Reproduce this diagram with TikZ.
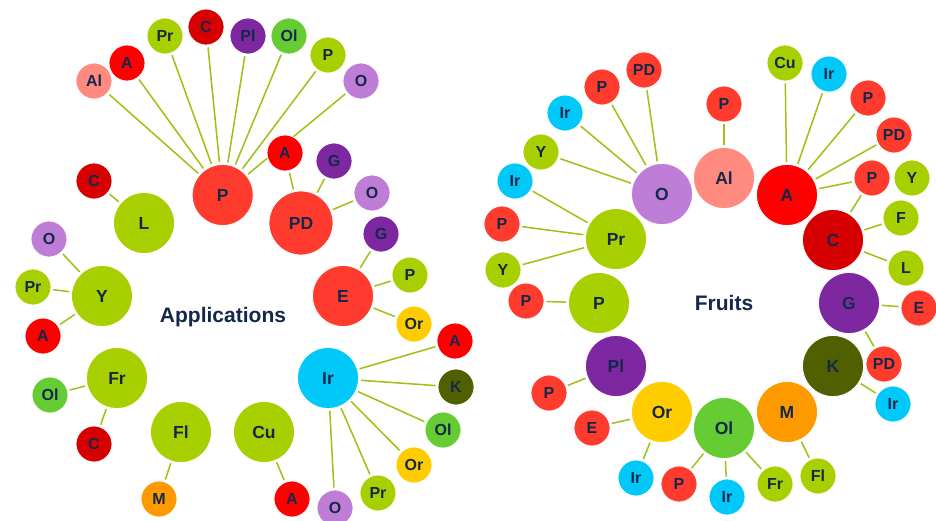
\documentclass[tikz,border=0pt]{standalone}
\usepackage{fontspec}
\setmainfont{Liberation Sans}
\usetikzlibrary{backgrounds}
\definecolor{tomred}{RGB}{255,59,45}
\definecolor{pured}{RGB}{255,0,0}
\definecolor{dkred}{RGB}{215,0,0}
\definecolor{salmon}{RGB}{255,138,128}
\definecolor{lime}{RGB}{168,208,0}
\definecolor{olgreen}{RGB}{102,204,51}
\definecolor{purp}{RGB}{125,40,160}
\definecolor{lav}{RGB}{190,125,215}
\definecolor{cyanb}{RGB}{0,200,248}
\definecolor{olive}{RGB}{80,95,0}
\definecolor{yell}{RGB}{255,204,0}
\definecolor{orng}{RGB}{255,153,0}
\definecolor{navy}{RGB}{20,40,75}
\definecolor{linec}{RGB}{160,192,20}
\tikzset{
  bub/.style={circle,draw=white,line width=0.8pt,inner sep=0pt,text=navy,font=\bfseries\fontsize{16}{16}\selectfont},
  sm/.style={bub,minimum size=36pt},
  bg/.style={bub,minimum size=61pt,font=\bfseries\fontsize{17.5}{17.5}\selectfont},
  lnk/.style={draw=linec,line width=1.5pt,shorten >=2pt,shorten <=2pt},
  title/.style={text=navy,font=\bfseries\fontsize{21}{21}\selectfont}
}
\begin{document}
\begin{tikzpicture}[x=1pt,y=-1pt]
\useasboundingbox (0,0) rectangle (936,520);
% ---------- Applications ----------
\node[bg,fill=tomred] (aP) at (222.7,195) {P};
\node[sm,fill=salmon] (aAl) at (94,81) {Al};
\node[sm,fill=pured] (aA1) at (127,63) {A};
\node[sm,fill=lime] (aPr1) at (165,36) {Pr};
\node[sm,fill=dkred] (aC1) at (206,27) {C};
\node[sm,fill=purp] (aPl) at (248,36) {Pl};
\node[sm,fill=olgreen] (aOl1) at (289,36) {Ol};
\node[sm,fill=lime] (aP2) at (328,55) {P};
\node[sm,fill=lav] (aO1) at (361,81) {O};
\node[sm,fill=pured] (aA2) at (285,153) {A};
\node[sm,fill=purp] (aG1) at (334,161) {G};
\node[bg,minimum size=64pt,fill=tomred] (aPD) at (301,223) {PD};
\node[sm,fill=lav] (aO2) at (372,193) {O};
\node[sm,fill=purp] (aG2) at (381,234) {G};
\node[sm,fill=dkred] (aC2) at (94,181) {C};
\node[bg,fill=lime] (aL) at (144,223) {L};
\node[sm,fill=lav] (aO3) at (49,239) {O};
\node[bg,fill=lime] (aY) at (102,296) {Y};
\node[sm,fill=lime] (aPr2) at (33,287) {Pr};
\node[sm,fill=pured] (aA3) at (43,336) {A};
\node[bg,fill=lime] (aFr) at (117,378) {Fr};
\node[sm,fill=olgreen] (aOl2) at (50,395) {Ol};
\node[sm,fill=dkred] (aC3) at (94,444) {C};
\node[bg,fill=lime] (aFl) at (181,432) {Fl};
\node[sm,fill=orng] (aM) at (159,499) {M};
\node[bg,fill=lime] (aCu) at (264,432) {Cu};
\node[sm,fill=pured] (aA4) at (292,499) {A};
\node[bg,fill=tomred] (aE) at (343,296) {E};
\node[sm,fill=lime] (aP3) at (410,275) {P};
\node[sm,fill=yell] (aOr1) at (414,324) {Or};
\node[sm,fill=pured] (aA5) at (455,341) {A};
\node[bg,fill=cyanb] (aIr) at (328,378) {Ir};
\node[sm,fill=olive] (aK) at (456,387) {K};
\node[sm,fill=olgreen] (aOl3) at (443,430) {Ol};
\node[sm,fill=yell] (aOr2) at (414,465) {Or};
\node[sm,fill=lime] (aPr3) at (378,493) {Pr};
\node[sm,fill=lav] (aO4) at (335,508) {O};
\node[title] (apps) at (223,317) {Applications};
% ---------- Fruits ----------
\node[bg,fill=lav] (fO) at (662,194) {O};
\node[bg,fill=salmon] (fAl) at (724,178) {Al};
\node[sm,fill=tomred] (fP1) at (724,104) {P};
\node[bg,fill=pured] (fA) at (787,195) {A};
\node[sm,fill=lime] (fCu) at (785,63) {Cu};
\node[sm,fill=cyanb] (fIr1) at (829,74) {Ir};
\node[sm,fill=tomred] (fP2) at (868,98) {P};
\node[sm,fill=tomred] (fPD1) at (894,135) {PD};
\node[sm,fill=tomred] (fP3) at (872,178) {P};
\node[sm,fill=lime] (fY1) at (912,178) {Y};
\node[bg,fill=dkred] (fC) at (833,240) {C};
\node[sm,fill=lime] (fF) at (901,218) {F};
\node[sm,fill=lime] (fL) at (906,268) {L};
\node[sm,fill=tomred] (fPD2) at (644,70) {PD};
\node[sm,fill=tomred] (fP4) at (602,87) {P};
\node[sm,fill=cyanb] (fIr2) at (565,113) {Ir};
\node[sm,fill=lime] (fY2) at (541,152) {Y};
\node[sm,fill=cyanb] (fIr3) at (515,181) {Ir};
\node[sm,fill=tomred] (fP5) at (502,224) {P};
\node[bg,fill=lime] (fPr) at (616,239) {Pr};
\node[sm,fill=lime] (fY3) at (503,270) {Y};
\node[sm,fill=tomred] (fP6) at (526,301) {P};
\node[bg,fill=lime] (fPb) at (599,303) {P};
\node[title] (fruits) at (724,303) {Fruits};
\node[bg,fill=purp] (fG) at (849,303) {G};
\node[sm,fill=tomred] (fE1) at (919,308) {E};
\node[bg,fill=purp] (fPl) at (616,366) {Pl};
\node[sm,fill=tomred] (fP7) at (549,393) {P};
\node[bg,fill=yell] (fOr) at (662,412) {Or};
\node[sm,fill=tomred] (fE2) at (592,428) {E};
\node[bg,fill=olgreen] (fOl) at (724,428) {Ol};
\node[bg,fill=orng] (fM) at (787,412) {M};
\node[bg,fill=olive] (fK) at (833,366) {K};
\node[sm,fill=tomred] (fPD3) at (884,364) {PD};
\node[sm,fill=cyanb] (fIr4) at (893,404) {Ir};
\node[sm,fill=cyanb] (fIr5) at (636,478) {Ir};
\node[sm,fill=tomred] (fP8) at (679,484) {P};
\node[sm,fill=cyanb] (fIr6) at (727,497) {Ir};
\node[sm,fill=lime] (fFr) at (775,484) {Fr};
\node[sm,fill=lime] (fFl) at (818,476) {Fl};
% ---------- connectors ----------
\begin{scope}[on background layer]
\fill[white] (0,0) rectangle (936,520);
\foreach \t in {aAl,aA1,aPr1,aC1,aPl,aOl1,aP2,aO1} \draw[lnk] (aP) -- (\t);
\foreach \t in {aA2,aG1,aO2} \draw[lnk] (aPD) -- (\t);
\draw[lnk] (aL) -- (aC2);
\foreach \t in {aO3,aPr2,aA3} \draw[lnk] (aY) -- (\t);
\foreach \t in {aOl2,aC3} \draw[lnk] (aFr) -- (\t);
\draw[lnk] (aFl) -- (aM);
\draw[lnk] (aCu) -- (aA4);
\foreach \t in {aG2,aP3,aOr1} \draw[lnk] (aE) -- (\t);
\foreach \t in {aA5,aK,aOl3,aOr2,aPr3,aO4} \draw[lnk] (aIr) -- (\t);
\foreach \t in {fPD2,fP4,fIr2,fY2} \draw[lnk] (fO) -- (\t);
\foreach \t in {fIr3,fP5,fY3} \draw[lnk] (fPr) -- (\t);
\draw[lnk] (fAl) -- (fP1);
\foreach \t in {fCu,fIr1,fP2,fPD1,fP3} \draw[lnk] (fA) -- (\t);
\foreach \t in {fP3,fF,fL} \draw[lnk] (fC) -- (\t);
\draw[lnk] (fPb) -- (fP6);
\foreach \t in {fE1,fPD3} \draw[lnk] (fG) -- (\t);
\draw[lnk] (fK) -- (fIr4);
\draw[lnk] (fPl) -- (fP7);
\foreach \t in {fE2,fIr5} \draw[lnk] (fOr) -- (\t);
\foreach \t in {fP8,fIr6,fFr} \draw[lnk] (fOl) -- (\t);
\draw[lnk] (fM) -- (fFl);
\end{scope}
\end{tikzpicture}
\end{document}
